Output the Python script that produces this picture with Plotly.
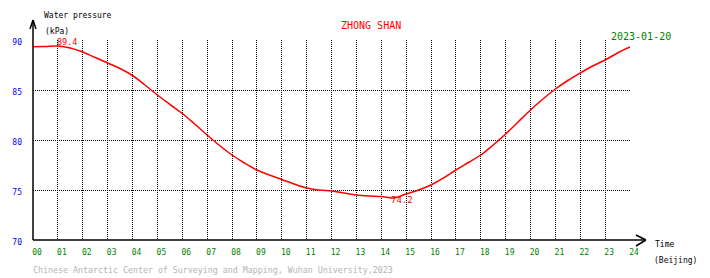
import plotly.graph_objects as go

hours = [0, 0.5, 1, 1.5, 2, 2.5, 3, 3.5, 4, 4.5, 5, 5.5, 6, 6.5, 7, 7.5, 8, 8.5, 9, 9.5,
         10, 10.5, 11, 11.5, 12, 12.5, 13, 13.5, 14, 14.5, 15, 15.5, 16, 16.5, 17, 17.5,
         18, 18.5, 19, 19.5, 20, 20.5, 21, 21.5, 22, 22.5, 23, 23.5, 24]
pressure = [89.33, 89.36, 89.4, 89.2, 88.8, 88.25, 87.7, 87.15, 86.45, 85.5, 84.5, 83.57,
            82.65, 81.6, 80.5, 79.45, 78.5, 77.7, 77.0, 76.5, 76.05, 75.6, 75.2, 75.0,
            74.9, 74.7, 74.5, 74.4, 74.35, 74.2, 74.6, 75.0, 75.5, 76.2, 77.0, 77.75,
            78.5, 79.5, 80.6, 81.8, 83.0, 84.1, 85.1, 85.95, 86.7, 87.4, 88.0, 88.7, 89.3]
x_ticks = list(range(0, 25))
x_ticktext = ["%02d" % h for h in x_ticks]
y_ticks = [70, 75, 80, 85, 90]
y_ticktext = [str(v) for v in y_ticks]

FONT = "DejaVu Sans Mono"

fig = go.Figure()
fig.add_trace(go.Scatter(x=hours, y=pressure, mode="lines",
                         line=dict(color="#ff0000", width=1.5, shape="spline", smoothing=1.0),
                         hoverinfo="skip"))

fig.update_layout(
    width=710, height=278,
    margin=dict(l=30, r=80, t=40, b=38, pad=0),
    paper_bgcolor="white", plot_bgcolor="white",
    showlegend=False,
    font=dict(family=FONT, size=8, color="black"),
    xaxis=dict(range=[0, 24], tickvals=x_ticks, ticktext=x_ticktext,
               showgrid=True, gridcolor="black", griddash="1px,1px", gridwidth=1,
               zeroline=False, showline=False, ticks="",
               tickfont=dict(family=FONT, size=8, color="#008000"),
               ticklabelshift=4, ticklabelstandoff=6),
    yaxis=dict(range=[70, 90], tickvals=y_ticks, ticktext=y_ticktext,
               showgrid=True, gridcolor="black", griddash="1px,1px", gridwidth=1,
               zeroline=False, showline=False, ticks="",
               tickfont=dict(family=FONT, size=8, color="#0000ff"),
               ticklabelstandoff=10, ticklabelshift=2),
)

def px(xp):
    return (xp - 30) / 600.0

def py(yp):
    return (240 - yp) / 200.0

shapes = []
# axis lines with arrows
for (x0, y0, x1, y1) in [(30, 240, 30, 20), (27, 29, 30, 20), (33, 29, 30, 20),
                         (30, 240, 646, 240), (636, 235, 646, 240), (636, 246, 646, 240)]:
    shapes.append(dict(type="line", xref="paper", yref="paper",
                       x0=px(x0), y0=py(y0), x1=px(x1), y1=py(y1),
                       line=dict(color="black", width=1.5)))
fig.update_layout(shapes=shapes)

def ann(text, xp, yp, color="black", size=8, xanchor="left"):
    fig.add_annotation(text=text, x=px(xp), y=py(yp), xref="paper", yref="paper",
                       showarrow=False, xanchor=xanchor, yanchor="middle",
                       font=dict(family=FONT, size=size, color=color))

ann("Water pressure", 39, 16)
ann("(kPa)", 40, 31)
ann("89.4", 52, 42, color="#ff0000", size=8.5)
ann("ZHONG SHAN", 370, 25, color="#ff0000", size=10, xanchor="center")
ann("2023-01-20", 641, 36, color="#008000", size=10, xanchor="center")
ann("74.2", 388, 200, color="#ff0000", size=9)
ann("Time", 653, 244)
ann("(Beijing)", 652, 260)
ann("Chinese Antarctic Center of Surveying and Mapping, Wuhan University,2023", 28, 270,
    color="#b4b4b4", size=8.3)

fig.write_html("out.html")
